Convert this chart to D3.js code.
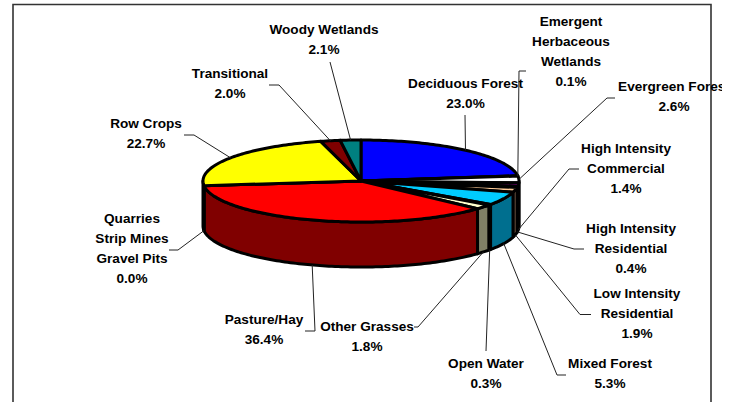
<!DOCTYPE html>
<html><head><meta charset="utf-8">
<script src="https://cdn.jsdelivr.net/npm/d3@7/dist/d3.min.js"></script>
<style>html,body{margin:0;padding:0;background:#fff}svg{display:block}
text{font-family:"Liberation Sans",Arial,sans-serif;font-weight:bold;font-size:13.6px;fill:#000}</style>
</head><body><svg id="c" width="732" height="402"></svg>
<script>
const categories=["Deciduous Forest","Emergent Herbaceous Wetlands","Evergreen Forest","High Intensity Commercial","High Intensity Residential","Low Intensity Residential","Mixed Forest","Open Water","Other Grasses","Pasture/Hay","Quarries Strip Mines Gravel Pits","Row Crops","Transitional","Woody Wetlands"];
const values=[23.0,0.1,2.6,1.4,0.4,1.9,5.3,0.3,1.8,36.4,0.0,22.7,2.0,2.1];
const topColors=["#0000ff","#ffffff","#ffffff","#800080","#000000","#ffcc99","#00ccff","#000000","#ffffcc","#ff0000","#000000","#ffff00","#800000","#008080"];
const sideColors=["#000080","#808080","#808080","#400040","#000000","#806650","#006f8f","#000000","#808066","#800000","#000000","#808000","#400000","#004040"];
const labelLines=[["Deciduous Forest","23.0%"],["Emergent","Herbaceous","Wetlands","0.1%"],["Evergreen Forest","2.6%"],["High Intensity","Commercial","1.4%"],["High Intensity","Residential","0.4%"],["Low Intensity","Residential","1.9%"],["Mixed Forest","5.3%"],["Open Water","0.3%"],["Other Grasses","1.8%"],["Pasture/Hay","36.4%"],["Quarries","Strip Mines","Gravel Pits","0.0%"],["Row Crops","22.7%"],["Transitional","2.0%"],["Woody Wetlands","2.1%"]];
const labelCenterX=[465.5,571,674,626,631,637,610,486,367,264,132,146,230,324];
const labelTopY=[88,26,91,153,233,298,368,368,331,324,223,128,78,34];
const leaderElbows=[[[465,115]],[[519,71],[526,71]],[[607,98],[615,98]],[[569,169],[579,169]],[[574,249],[584,249]],[[580,314.5],[591,314.5]],[[557,375],[566,375]],[[486,351]],[[418,327],[414,327]],[[315,331],[305,331]],[[178,250],[169,250]],[[194,135],[184,135]],[[279,85],[269,85]],[[330,62]]];

const cx=361,cy=181,rx=158,ry=41,depth=45,lineH=20,sw=3;
const svg=d3.select("#c");
svg.append("defs").append("clipPath").attr("id","clip").append("rect").attr("x",0).attr("y",0).attr("width",722).attr("height",402);
// open-bottomed frame
svg.append("path").attr("d",d3.line()([[13,402],[13,4.5],[711,4.5],[711,402]])).attr("fill","none").attr("stroke","#333").attr("stroke-width",1.6);

const arcs=d3.pie().sort(null).value(d=>d)(values);
const pt=(a,dz=0)=>[cx+rx*Math.sin(a),cy-ry*Math.cos(a)+dz];
const curve=(a0,a1,dz=0)=>{
  const n=Math.max(2,Math.ceil(Math.abs(a1-a0)/0.02));
  return d3.range(n+1).map(i=>pt(a0+(a1-a0)*i/n,dz));
};
const line=d3.line();
const g=svg.append("g");
// side walls of the front half
const sides=arcs.map((d,i)=>({i,a0:Math.max(d.startAngle,Math.PI/2),a1:Math.min(d.endAngle,Math.PI*1.5)})).filter(s=>s.a1>=s.a0);
g.selectAll("path.side").data(sides).join("path").attr("class","side")
 .attr("d",s=>line([...curve(s.a0,s.a1),...curve(s.a1,s.a0,depth)])+"Z")
 .attr("fill",s=>sideColors[s.i]).attr("stroke","#000").attr("stroke-width",sw).attr("stroke-linejoin","round");
// top faces
g.selectAll("path.top").data(arcs).join("path").attr("class","top")
 .attr("d",d=>line([[cx,cy],...curve(d.startAngle,d.endAngle)])+"Z")
 .attr("fill",(d,i)=>topColors[i]).attr("stroke","#000").attr("stroke-width",sw).attr("stroke-linejoin","round");
// leaders
svg.append("g").selectAll("path").data(arcs).join("path")
 .attr("d",(d,i)=>{
   const m=(d.startAngle+d.endAngle)/2;
   const front=m>=Math.PI/2&&m<=Math.PI*1.5;
   return line([pt(m,front?depth:0),...leaderElbows[i]]);
 }).attr("fill","none").attr("stroke","#222").attr("stroke-width",1);
// labels
const lab=svg.append("g").attr("clip-path","url(#clip)");
lab.selectAll("text").data(categories).join("text")
 .attr("text-anchor","middle").attr("y",(d,i)=>labelTopY[i])
 .each(function(d,i){
   d3.select(this).selectAll("tspan").data(labelLines[i]).join("tspan")
     .attr("x",labelCenterX[i]).attr("dy",(t,k)=>k?lineH:0).text(t=>t);
 });
</script></body></html>
